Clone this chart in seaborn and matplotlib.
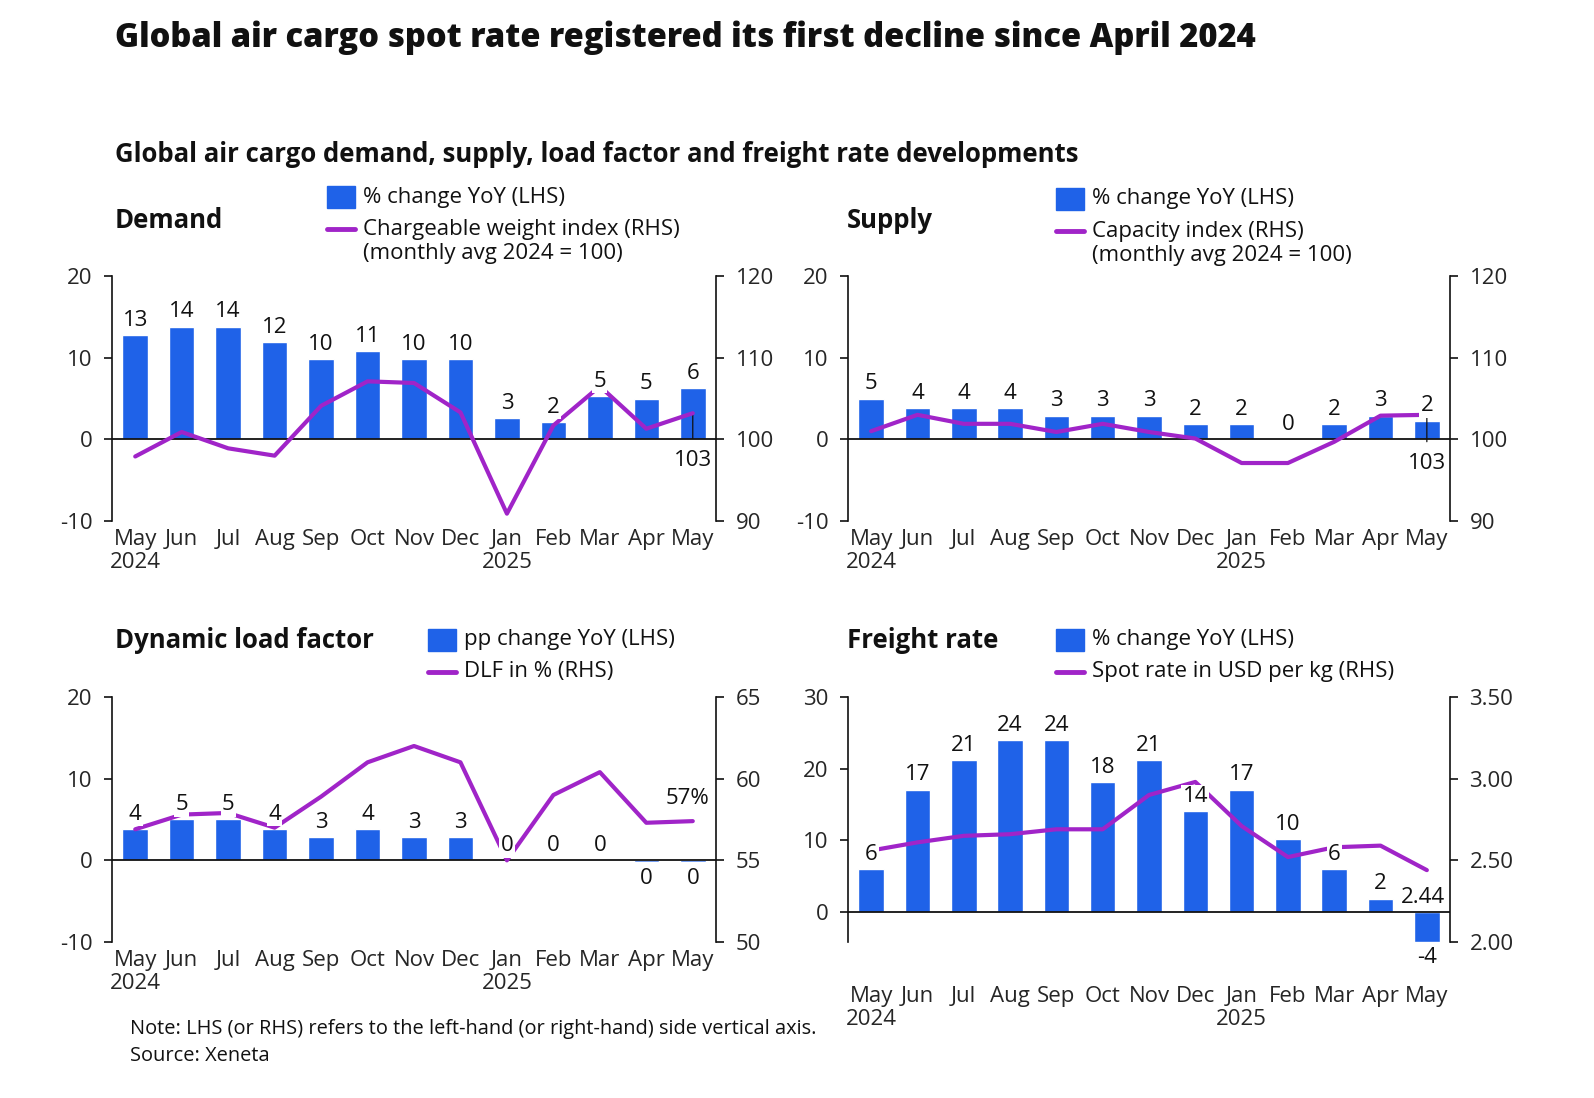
import matplotlib
matplotlib.use("Agg")
import numpy as np
import pandas as pd
import matplotlib.pyplot as plt
import seaborn as sns
from matplotlib.patches import Rectangle
from matplotlib.lines import Line2D

# Data
months = ["May\n2024", "Jun", "Jul", "Aug", "Sep", "Oct", "Nov", "Dec",
          "Jan\n2025", "Feb", "Mar", "Apr", "May"]

demand_yoy = [12.8, 13.8, 13.8, 11.9, 9.8, 10.8, 9.8, 9.8, 2.6, 2.1, 5.3, 5.0, 6.3]
demand_index = [97.9, 100.9, 98.9, 98.0, 104.1, 107.1, 106.9, 103.3, 90.9, 101.7, 106.5, 101.3, 103.2]

supply_yoy = [5.0, 3.8, 3.8, 3.8, 2.9, 2.9, 2.9, 1.9, 1.9, 0.0, 1.9, 2.9, 2.3]
supply_index = [101.0, 103.0, 101.9, 101.9, 100.9, 101.9, 100.9, 100.1, 97.1, 97.1, 99.7, 102.9, 103.0]

dlf_pp = [3.8, 5.0, 5.0, 3.8, 2.8, 3.8, 2.8, 2.8, 0.0, 0.0, 0.0, -0.2, -0.2]
dlf_pct = [56.9, 57.8, 57.9, 57.0, 58.9, 61.0, 62.0, 61.0, 55.0, 59.0, 60.4, 57.3, 57.4]

freight_yoy = [6.0, 17.1, 21.2, 24.0, 24.0, 18.1, 21.2, 14.1, 17.1, 10.2, 6.0, 1.9, -4.1]
spot_rate = [2.56, 2.61, 2.65, 2.66, 2.69, 2.69, 2.90, 2.98, 2.71, 2.52, 2.58, 2.59, 2.44]

BLUE = "#1F62E8"
PURPLE = "#A024C8"
W, H = 1594, 1098

sns.set_theme(style="white")
plt.rcParams["font.family"] = ["Open Sans", "DejaVu Sans"]
plt.rcParams["text.color"] = "#111111"
plt.rcParams["axes.unicode_minus"] = False

fig = plt.figure(figsize=(W / 100, H / 100), dpi=100)


def px_axes(x0, y0, x1, y1):
    return fig.add_axes([x0 / W, 1 - y1 / H, (x1 - x0) / W, (y1 - y0) / H])


def draw_panel(rect, bars, line, ylim, yticks, ylim2, yticks2, fmt2="{:.0f}", xpad=6):
    ax = px_axes(*rect)
    df = pd.DataFrame({"pos": range(len(months)), "bar": bars, "line": line})
    sns.barplot(data=df, x="pos", y="bar", ax=ax, color=BLUE, saturation=1,
                width=0.55, zorder=2)
    ax.set_xlim(-0.5, len(months) - 0.5)
    ax.set_ylim(*ylim)
    ax.set_yticks(yticks)
    ax.set_xticks(range(len(months)))
    ax.set_xticklabels(months, fontsize=16, linespacing=1.1)
    ax.set_xlabel("")
    ax.set_ylabel("")
    ax.axhline(0, color="#111111", lw=1.3, zorder=3)
    for s in ["top", "bottom", "right"]:
        ax.spines[s].set_visible(False)
    ax.spines["left"].set_color("#111111")
    ax.spines["left"].set_linewidth(1.2)
    ax.tick_params(axis="x", length=0, pad=xpad)
    ax.tick_params(axis="y", length=6, width=1.2, color="#111111", direction="out",
                   labelsize=16, pad=8, left=True)

    ax2 = ax.twinx()
    sns.lineplot(data=df, x="pos", y="line", ax=ax2, color=PURPLE, lw=3, zorder=4)
    ax2.set_ylim(*ylim2)
    ax2.set_yticks(yticks2)
    ax2.set_yticklabels([fmt2.format(t) for t in yticks2])
    ax2.set_ylabel("")
    ax2.set_xlabel("")
    for s in ["top", "bottom", "left"]:
        ax2.spines[s].set_visible(False)
    ax2.spines["right"].set_color("#111111")
    ax2.spines["right"].set_linewidth(1.2)
    ax2.tick_params(axis="y", length=6, width=1.2, color="#111111", direction="out",
                    labelsize=16, pad=8, right=True)
    ax2.grid(False)
    ax.grid(False)

    for i, v in enumerate(bars):
        lab = f"{round(v):d}"
        if v >= 0:
            ax2.annotate(lab, (i, v), xycoords=ax.transData, xytext=(0, 3),
                         textcoords="offset points", ha="center", va="bottom",
                         fontsize=16, zorder=6,
                         bbox=dict(fc="white", ec="none", pad=1.0))
        else:
            ax2.annotate(lab, (i, v), xycoords=ax.transData, xytext=(0, -4),
                         textcoords="offset points", ha="center", va="top",
                         fontsize=16, zorder=6,
                         bbox=dict(fc="white", ec="none", pad=1.0))
    return ax, ax2


def legend_block(x, y, lines, patch_label):
    # patch entry
    fig.patches.append(Rectangle((x / W, 1 - (y + 11) / H), 28 / W, 22 / H,
                                 transform=fig.transFigure, color=BLUE))
    fig.text((x + 36) / W, 1 - y / H, patch_label, fontsize=16, va="center")
    # line entry
    ly = y + 32
    fig.lines.append(Line2D([x / W, (x + 28) / W], [1 - ly / H, 1 - ly / H],
                            transform=fig.transFigure, color=PURPLE, lw=3.5))
    for k, txt in enumerate(lines.split("\n")):
        fig.text((x + 36) / W, 1 - (ly + k * 24) / H, txt, fontsize=16, va="center")


# Demand
ax, ax2 = draw_panel((112, 276, 716, 521), demand_yoy, demand_index,
                     (-10, 20), [-10, 0, 10, 20], (90, 120), [90, 100, 110, 120])
ax2.annotate("103", (12, demand_index[-1]), xytext=(12, 97.4), ha="center", va="center",
             fontsize=16, arrowprops=dict(arrowstyle="-", lw=0.9, color="#111111",
                                          shrinkA=6, shrinkB=0))

# Supply
ax, ax2 = draw_panel((848, 276, 1450, 521), supply_yoy, supply_index,
                     (-10, 20), [-10, 0, 10, 20], (90, 120), [90, 100, 110, 120])
ax2.annotate("103", (12, supply_index[-1]), xytext=(12, 97.0), ha="center", va="center",
             fontsize=16, arrowprops=dict(arrowstyle="-", lw=0.9, color="#111111",
                                          shrinkA=6, shrinkB=0))

# Dynamic load factor
ax, ax2 = draw_panel((112, 697, 716, 942), dlf_pp, dlf_pct,
                     (-10, 20), [-10, 0, 10, 20], (50, 65), [50, 55, 60, 65])
ax2.annotate("57%", (12, dlf_pct[-1]), xytext=(-4, 9), textcoords="offset points",
             ha="center", va="bottom", fontsize=16)

# Freight rate
ax, ax2 = draw_panel((848, 697, 1450, 942), freight_yoy, spot_rate,
                     (-4.15, 30), [0, 10, 20, 30], (2.0, 3.5), [2.0, 2.5, 3.0, 3.5],
                     fmt2="{:.2f}", xpad=32)
ax2.annotate("2.44", (12, spot_rate[-1]), xytext=(-3, -12), textcoords="offset points",
             ha="center", va="top", fontsize=16, zorder=7)

# Titles and legends
fig.text(115 / W, 1 - 38 / H, "Global air cargo spot rate registered its first decline since April 2024",
         fontsize=23.5, fontweight="heavy", va="center")
fig.text(115 / W, 1 - 154 / H, "Global air cargo demand, supply, load factor and freight rate developments",
         fontsize=18.5, fontweight="bold", va="center")

fig.text(115 / W, 1 - 221 / H, "Demand", fontsize=18.5, fontweight="bold", va="center")
legend_block(327, 197, "Chargeable weight index (RHS)\n(monthly avg 2024 = 100)", "% change YoY (LHS)")

fig.text(847 / W, 1 - 221 / H, "Supply", fontsize=18.5, fontweight="bold", va="center")
legend_block(1056, 199, "Capacity index (RHS)\n(monthly avg 2024 = 100)", "% change YoY (LHS)")

fig.text(115 / W, 1 - 641 / H, "Dynamic load factor", fontsize=18.5, fontweight="bold", va="center")
legend_block(428, 640, "DLF in % (RHS)", "pp change YoY (LHS)")

fig.text(847 / W, 1 - 641 / H, "Freight rate", fontsize=18.5, fontweight="bold", va="center")
legend_block(1056, 640, "Spot rate in USD per kg (RHS)", "% change YoY (LHS)")

fig.text(130 / W, 1 - 1029 / H,
         "Note: LHS (or RHS) refers to the left-hand (or right-hand) side vertical axis.",
         fontsize=14.4, va="center")
fig.text(130 / W, 1 - 1056 / H, "Source: Xeneta", fontsize=14.4, va="center")

fig.savefig("out.png", dpi=100, facecolor="white")
